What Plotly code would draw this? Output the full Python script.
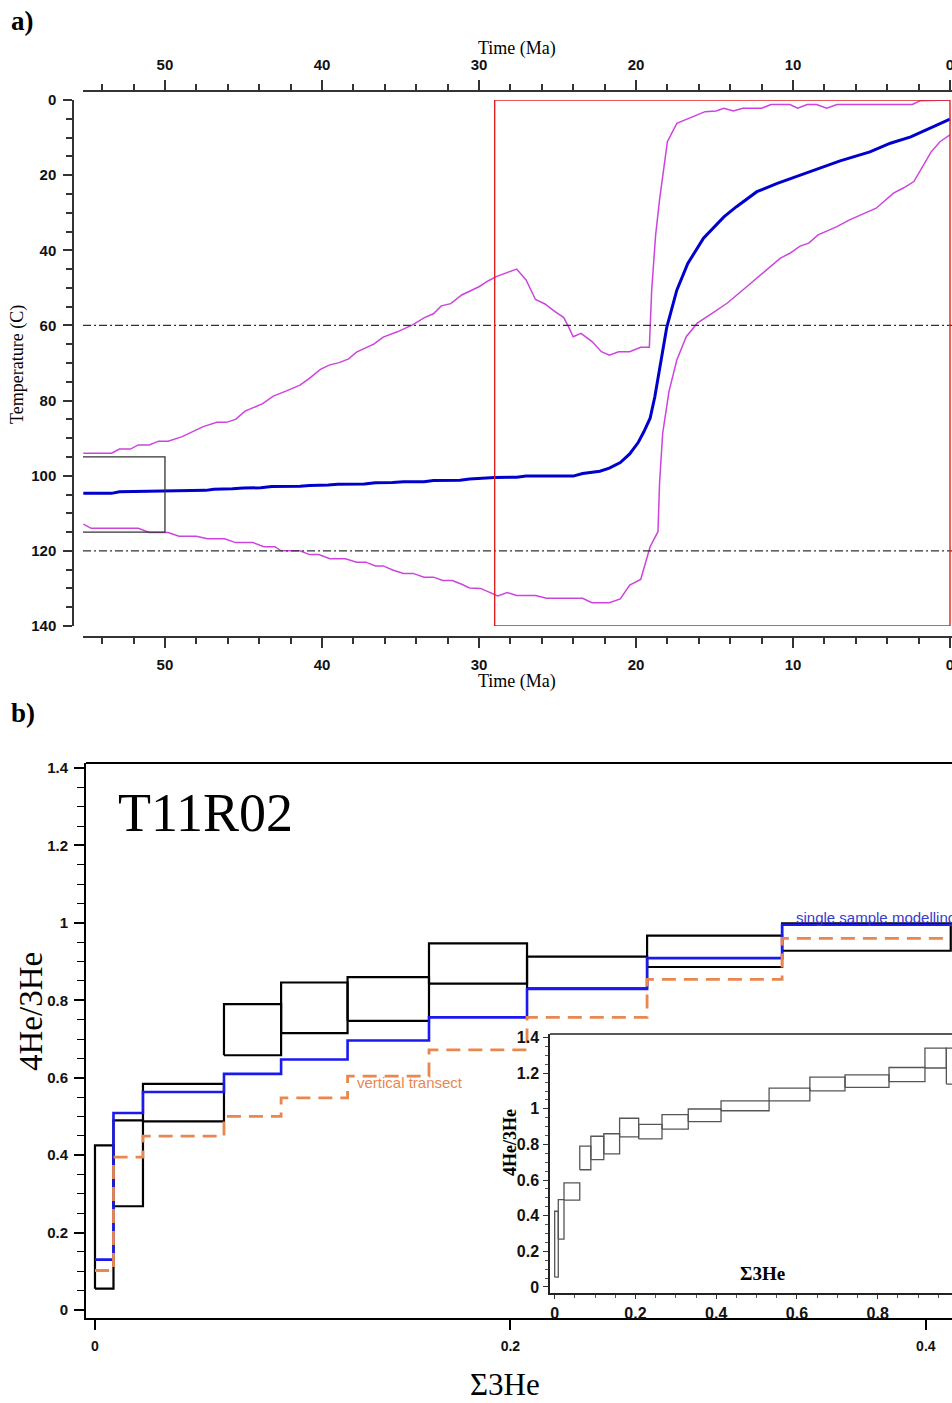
import plotly.graph_objects as go

# ---- panel a: thermal history (time in Ma, temperature in C) ----
best_time = [55.2, 53.4, 52.9, 50.0, 49.25, 47.4, 46.9, 45.7, 45.0, 43.9, 43.2, 41.4, 40.8,
             39.6, 39.0, 37.3, 36.6, 35.5, 34.8, 33.5, 32.9, 31.2, 30.6, 29.0, 27.6, 27.0,
             24.0, 23.4, 22.3, 21.7, 21.0, 20.4, 19.85, 19.5, 19.1, 18.8, 18.5, 18.04, 17.4,
             16.7, 15.7, 14.4, 13.6, 12.3, 11.0, 9.55, 8.07, 7.0, 5.1, 3.8, 2.5, 1.27, 0.0]
best_temp = [104.7, 104.7, 104.3, 104.2, 104.0, 103.9, 103.6, 103.5, 103.3, 103.2, 102.9, 102.8,
             102.6, 102.5, 102.3, 102.2, 101.9, 101.8, 101.6, 101.6, 101.3, 101.2, 100.9, 100.5,
             100.4, 100.1, 100.1, 99.4, 98.8, 98.0, 96.5, 94.2, 91.1, 88.3, 84.7, 79.0, 71.9,
             60.5, 50.6, 43.5, 36.8, 31.1, 28.4, 24.4, 22.2, 20.0, 17.7, 16.2, 13.8, 11.5, 9.8,
             7.5, 5.1]

upper_time = [55.2, 53.4, 52.9, 52.2, 51.7, 51.0, 50.4, 49.8, 48.9, 47.6, 46.7, 46.1, 45.5,
              44.9, 43.8, 43.1, 42.3, 41.4, 40.8, 40.1, 39.5, 38.9, 38.3, 37.8, 36.7, 36.1,
              35.2, 34.2, 33.5, 32.9, 32.4, 31.8, 31.1, 30.0, 29.4, 28.9, 27.6, 27.0, 26.4,
              25.8, 25.2, 24.6, 24.3, 24.0, 23.5, 22.8, 22.2, 21.7, 21.1, 20.4, 19.7, 19.15,
              19.0, 18.75, 18.5, 18.0, 17.4, 16.6, 15.6, 14.9, 14.4, 13.8, 13.2, 12.0, 11.4,
              10.2, 9.7, 9.1, 8.5, 7.85, 7.2, 2.4, 1.9, 0.0]
upper_temp = [94.0, 94.0, 92.9, 92.9, 91.8, 91.8, 90.8, 90.8, 89.6, 87.0, 85.8, 85.8, 85.0,
              82.8, 80.9, 78.8, 77.5, 75.9, 74.1, 71.7, 70.5, 69.9, 68.9, 67.1, 65.0, 63.1,
              61.7, 59.8, 58.0, 56.9, 54.8, 54.2, 51.9, 49.7, 48.1, 47.0, 45.0, 47.9, 53.1,
              54.3, 56.2, 57.9, 60.3, 63.0, 62.1, 64.3, 67.0, 67.9, 67.0, 67.0, 65.8, 65.8,
              50.6, 36.0, 26.6, 11.1, 6.2, 4.9, 3.1, 2.9, 2.2, 2.9, 2.2, 2.2, 1.2,
              1.2, 2.2, 1.2, 1.2, 2.2, 1.2, 1.2, 0.2, 0.0]

lower_time = [55.2, 54.7, 51.7, 51.0, 49.8, 49.1, 48.0, 47.3, 46.2, 45.5, 44.4, 43.7, 43.0,
              42.6, 41.4, 40.8, 40.2, 39.5, 38.5, 37.8, 37.2, 36.6, 36.1, 35.5, 34.8, 34.2,
              33.5, 32.9, 32.3, 31.7, 31.1, 30.6, 29.9, 28.8, 28.2, 27.6, 26.4, 25.7, 23.4,
              22.8, 21.7, 21.0, 20.4, 19.7, 19.1, 18.6, 18.5, 18.3, 17.9, 17.4, 16.8, 16.1,
              15.3, 14.2, 12.95, 11.9, 10.8, 10.2, 9.55, 9.0, 8.4, 7.2, 6.4, 4.7, 3.6, 3.0,
              2.3, 1.2, 0.64, 0.0]
lower_temp = [112.9, 114.0, 114.0, 115.1, 115.1, 116.1, 116.1, 116.8, 116.8, 117.8, 117.8,
              118.9, 118.9, 120.0, 120.0, 121.0, 121.0, 122.1, 122.1, 123.0, 123.0, 124.0,
              124.0, 125.1, 126.0, 126.0, 127.0, 127.0, 127.9, 127.9, 128.9, 129.9, 130.0,
              132.0, 131.1, 131.9, 131.9, 132.6, 132.6, 133.8, 133.8, 132.8, 129.1, 127.6,
              118.9, 114.9, 102.0, 88.7, 77.6, 69.2, 63.0, 59.4, 57.2, 54.1, 49.7, 46.1, 42.1,
              40.8, 38.9, 38.1, 35.9, 33.7, 31.9, 28.8, 24.8, 23.5, 21.7, 13.8, 11.1, 9.3]

constraint_time = [55.5, 50.0]   # black box
constraint_temp = [95.0, 115.0]
window_time = [29.0, 0.0]        # red box
window_temp = [0.0, 140.0]
pra_limits = [60.0, 120.0]       # dash-dot lines

# ---- panel b: 4He/3He step diagram ----
sum3he_edges = [0, 0.0089, 0.0231, 0.0621, 0.0896, 0.1216, 0.1608, 0.2080, 0.2658, 0.3308,
                0.412, 0.531, 0.632, 0.719, 0.828, 0.917, 0.970, 1.0]
ratio_max = [0.425, 0.490, 0.584, 0.790, 0.846, 0.860, 0.947, 0.913, 0.967, 0.999,
             1.045, 1.116, 1.178, 1.191, 1.232, 1.341, 1.341]
ratio_min = [0.055, 0.268, 0.487, 0.658, 0.715, 0.747, 0.843, 0.831, 0.886, 0.928,
             0.989, 1.045, 1.101, 1.120, 1.153, 1.229, 1.139]
single_sample = [0.130, 0.509, 0.563, 0.610, 0.647, 0.696, 0.756, 0.829, 0.909, 0.995]
vertical_transect = [0.102, 0.395, 0.449, 0.500, 0.548, 0.604, 0.672, 0.756, 0.854, 0.960]
n_main = len(single_sample)

W, H = 952, 1403
SERIF = "Liberation Serif"
SANS = "Liberation Sans"


def fx(px):
    return px / W


def fy(py):
    return 1 - py / H


def box_path(edges, lo, hi):
    xs, ys = [], []
    for i in range(len(lo)):
        x0, x1 = edges[i], edges[i + 1]
        xs += [x0, x0, x1, x1, x0, None]
        ys += [lo[i], hi[i], hi[i], lo[i], lo[i], None]
    return xs, ys


fig = go.Figure()

# panel a traces
fig.add_trace(go.Scatter(x=upper_time, y=upper_temp, mode="lines",
                         line=dict(color="#cc44dd", width=1.5), xaxis="x", yaxis="y"))
fig.add_trace(go.Scatter(x=lower_time, y=lower_temp, mode="lines",
                         line=dict(color="#cc44dd", width=1.5), xaxis="x", yaxis="y"))
fig.add_trace(go.Scatter(x=best_time, y=best_temp, mode="lines",
                         line=dict(color="#0000cc", width=3), xaxis="x", yaxis="y"))
fig.add_trace(go.Scatter(
    x=[constraint_time[0], constraint_time[1], constraint_time[1], constraint_time[0]],
    y=[constraint_temp[0], constraint_temp[0], constraint_temp[1], constraint_temp[1]],
    mode="lines", line=dict(color="#333333", width=1.3), xaxis="x", yaxis="y"))
# dummy trace so the top time axis is drawn
fig.add_trace(go.Scatter(x=[30], y=[70], mode="markers", marker=dict(opacity=0),
                         xaxis="x2", yaxis="y", hoverinfo="skip"))

for t in pra_limits:
    fig.add_shape(type="line", xref="x domain", yref="y", x0=0, x1=1, y0=t, y1=t,
                  line=dict(color="#333333", width=1.3, dash="8px,3px,2px,3px"))
fig.add_shape(type="rect", xref="x", yref="y", x0=window_time[0], x1=window_time[1],
              y0=window_temp[0], y1=window_temp[1], line=dict(color="#e02020", width=1.4))

# panel b main traces
bx, by = box_path(sum3he_edges[:n_main + 1], ratio_min[:n_main], ratio_max[:n_main])
fig.add_trace(go.Scatter(x=bx, y=by, mode="lines", line=dict(color="black", width=2.2),
                         xaxis="x3", yaxis="y3"))
fig.add_trace(go.Scatter(x=sum3he_edges[:n_main + 1], y=single_sample + [single_sample[-1]],
                         mode="lines", line=dict(color="#1a1aee", width=2.6, shape="hv"),
                         xaxis="x3", yaxis="y3"))
fig.add_trace(go.Scatter(x=sum3he_edges[:n_main + 1], y=vertical_transect + [vertical_transect[-1]],
                         mode="lines",
                         line=dict(color="#e8874f", width=2.8, shape="hv", dash="14px,8px"),
                         xaxis="x3", yaxis="y3"))

# inset
ix, iy = box_path(sum3he_edges, ratio_min, ratio_max)
fig.add_trace(go.Scatter(x=ix, y=iy, mode="lines", line=dict(color="#555555", width=1.3),
                         xaxis="x4", yaxis="y4"))

fig.add_shape(type="line", xref="x3 domain", yref="y3 domain", x0=0, x1=1, y0=1, y1=1,
              line=dict(color="black", width=2))
fig.add_shape(type="line", xref="x4 domain", yref="y4 domain", x0=0, x1=1, y0=1, y1=1,
              line=dict(color="#222222", width=1.5))

tickfont = dict(family=SANS, size=15, color="#111111", weight="bold")
time_axis = dict(
    domain=[fx(83), 1], range=[55.22, -0.127], tickmode="linear", tick0=0, dtick=10,
    ticks="outside", ticklen=10, tickwidth=1.5, tickcolor="#333333",
    minor=dict(dtick=2, tick0=0, ticks="outside", ticklen=6, tickwidth=1.5, tickcolor="#333333"),
    showline=True, linecolor="#333333", linewidth=1.5, showgrid=False, zeroline=False,
    tickfont=tickfont, anchor="free", automargin=False, ticklabelstandoff=4,
    ticklabeloverflow="allow",
)

fig.update_layout(
    width=W, height=H, margin=dict(l=0, r=0, t=0, b=0),
    paper_bgcolor="white", plot_bgcolor="white", showlegend=False,
    xaxis=dict(time_axis, position=fy(637)),
    xaxis2=dict(time_axis, position=fy(91), side="top", overlaying="x", matches="x"),
    yaxis=dict(
        domain=[fy(626), fy(100)], range=[140, 0], tickmode="linear", tick0=0, dtick=20,
        ticks="outside", ticklen=9, tickwidth=1.5, tickcolor="#333333",
        minor=dict(dtick=5, tick0=0, ticks="outside", ticklen=6, tickwidth=1.5,
                   tickcolor="#333333"),
        showline=True, linecolor="#333333", linewidth=1.5, showgrid=False, zeroline=False,
        tickfont=tickfont, anchor="free", position=fx(73), automargin=False,
        ticklabelstandoff=4,
    ),
    xaxis3=dict(
        domain=[fx(86), 1], range=[-0.00433, 0.4126], anchor="y3", tickvals=[0, 0.2, 0.4],
        ticktext=["0", "0.2", "0.4"], ticks="outside", ticklen=10, tickwidth=1.5,
        tickcolor="black", showline=True, linecolor="black", linewidth=2, showgrid=False,
        zeroline=False, tickfont=dict(tickfont, size=14), automargin=False,
        ticklabelstandoff=4,
    ),
    yaxis3=dict(
        domain=[fy(1318), fy(763)], range=[-0.0207, 1.413], anchor="x3", tickmode="linear",
        tick0=0, dtick=0.2, ticks="outside", ticklen=10, tickwidth=1.5, tickcolor="black",
        minor=dict(dtick=0.05, tick0=0, ticks="outside", ticklen=7, tickwidth=1.2,
                   tickcolor="black"),
        showline=True, linecolor="black", linewidth=2, showgrid=False, zeroline=False,
        tickfont=dict(tickfont, size=15), automargin=False, ticklabelstandoff=3,
    ),
    xaxis4=dict(
        domain=[fx(550), 1], range=[-0.0116, 0.984], anchor="y4", tickmode="linear", tick0=0,
        dtick=0.2, ticks="outside", ticklen=4, tickwidth=1.2, tickcolor="#333333",
        minor=dict(dtick=0.05, tick0=0, ticks="outside", ticklen=3, tickwidth=1,
                   tickcolor="#555555"),
        showline=True, linecolor="#222222", linewidth=1.5, showgrid=False, zeroline=False,
        tickfont=dict(tickfont, size=16), automargin=False, ticklabelstandoff=1,
    ),
    yaxis4=dict(
        domain=[fy(1293), fy(1034)], range=[-0.034, 1.42], anchor="x4", tickmode="linear",
        tick0=0, dtick=0.2, ticks="outside", ticklen=5, tickwidth=1.2, tickcolor="#333333",
        minor=dict(dtick=0.05, tick0=0, ticks="outside", ticklen=3, tickwidth=1,
                   tickcolor="#555555"),
        showline=True, linecolor="#222222", linewidth=1.5, showgrid=False, zeroline=False,
        tickfont=dict(tickfont, size=16), automargin=False, ticklabelstandoff=1,
    ),
)


def label(text, px, py, size, family=SERIF, angle=0, xanchor="center", weight="normal",
          color="black"):
    fig.add_annotation(text=text, x=fx(px), y=fy(py), xref="paper", yref="paper",
                       showarrow=False, textangle=angle, xanchor=xanchor, yanchor="middle",
                       font=dict(family=family, size=size, color=color, weight=weight))


label("a)", 9, 21, 27, weight="bold", xanchor="left")
label("b)", 9, 713, 27, weight="bold", xanchor="left")
label("Time (Ma)", 517, 48, 18)
label("Time (Ma)", 517, 681, 18)
label("Temperature (C)", 17, 365, 18, angle=-90)
label("T11R02", 116, 813, 54, xanchor="left")
label("4He/3He", 31, 1012, 33, angle=-90)
label("Σ3He", 505, 1384, 31)
label("4He/3He", 510, 1143, 18, angle=-90, weight="bold")
label("Σ3He", 762, 1273, 19, weight="bold")

fig.add_annotation(text="single sample modelling", x=sum3he_edges[n_main - 1], y=single_sample[-1],
                   xref="x3", yref="y3", xanchor="left", yanchor="bottom", xshift=12, yshift=-3,
                   showarrow=False, font=dict(family=SANS, size=15, color="#3a3acc"))
fig.add_annotation(text="vertical transect", x=sum3he_edges[5], y=vertical_transect[5],
                   xref="x3", yref="y3", xanchor="left", yanchor="top", xshift=7, yshift=4,
                   showarrow=False, font=dict(family=SANS, size=15, color="#e8874f"))

fig.write_html("out.html", config={"displayModeBar": False},
               post_script="document.body.style.margin='0';")
